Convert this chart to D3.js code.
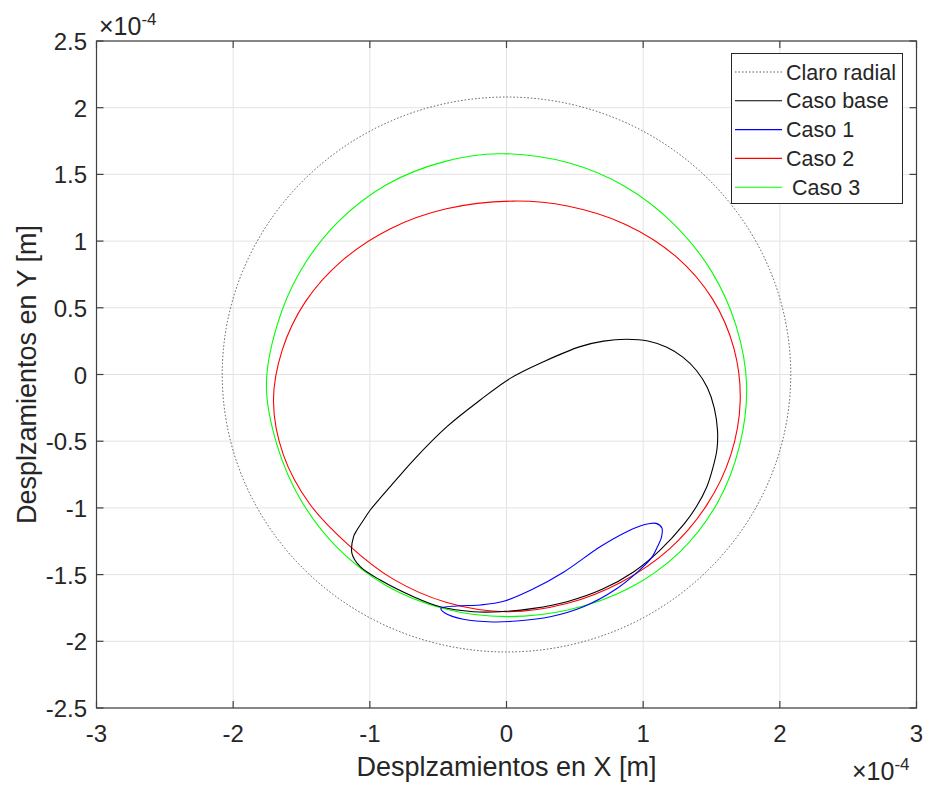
<!DOCTYPE html>
<html>
<head>
<meta charset="utf-8">
<script src="https://cdn.jsdelivr.net/npm/d3@7"></script>
<style>
  html, body { margin: 0; padding: 0; background: #fff; }
  svg text { font-family: "Liberation Sans", Arial, sans-serif; fill: #262626; }
</style>
</head>
<body>
<svg id="chart" width="925" height="785"></svg>
<script>
// Orbit displacements, in units of 1e-4 m: [x, y]
const radialClearance = 2.08;

const casoBase = [
  [-1.131, -1.341], [-1.119, -1.216], [-1.094, -1.166], [-1.046, -1.091], [-0.997, -1.016],
  [-0.936, -0.941], [-0.851, -0.841], [-0.680, -0.641], [-0.436, -0.391], [-0.192, -0.191],
  [0.027, -0.029], [0.271, 0.096], [0.539, 0.209], [0.710, 0.250], [0.880, 0.264],
  [1.035, 0.251], [1.173, 0.204], [1.290, 0.130], [1.390, 0.030], [1.470, -0.100],
  [1.520, -0.250], [1.544, -0.420], [1.540, -0.560], [1.510, -0.700], [1.466, -0.841],
  [1.390, -0.990], [1.300, -1.120], [1.120, -1.320], [0.929, -1.480], [0.700, -1.610],
  [0.442, -1.703], [0.198, -1.753], [-0.046, -1.778], [-0.241, -1.778], [-0.485, -1.741],
  [-0.680, -1.666], [-0.924, -1.541], [-1.070, -1.441]
];

const caso1 = [
  [-0.480, -1.753], [-0.363, -1.735], [-0.192, -1.728], [-0.020, -1.700], [0.190, -1.610],
  [0.420, -1.480], [0.685, -1.291], [0.880, -1.178], [0.978, -1.136], [1.040, -1.119],
  [1.095, -1.116], [1.137, -1.150], [1.135, -1.215], [1.105, -1.290], [1.060, -1.375],
  [0.970, -1.470], [0.800, -1.610], [0.563, -1.741], [0.320, -1.816], [0.076, -1.848],
  [-0.100, -1.855], [-0.315, -1.835], [-0.448, -1.790]
];

const caso2 = [
  [0.050, 1.300], [0.446, 1.263], [0.871, 1.125], [1.237, 0.887], [1.508, 0.565],
  [1.665, 0.192], [1.710, -0.200], [1.640, -0.606], [1.464, -0.981], [1.195, -1.305],
  [0.845, -1.553], [0.440, -1.717], [0.000, -1.778], [-0.437, -1.709], [-0.832, -1.532],
  [-1.161, -1.273], [-1.441, -0.969], [-1.632, -0.604], [-1.705, -0.200], [-1.640, 0.186],
  [-1.471, 0.546], [-1.201, 0.855], [-0.849, 1.093], [-0.440, 1.242]
];

const caso3 = [
  [-0.050, 1.655], [0.452, 1.587], [0.870, 1.408], [1.224, 1.128], [1.499, 0.775],
  [1.680, 0.365], [1.757, -0.080], [1.706, -0.531], [1.544, -0.961], [1.267, -1.331],
  [0.892, -1.605], [0.457, -1.764], [0.000, -1.815], [-0.455, -1.756], [-0.879, -1.583],
  [-1.236, -1.300], [-1.506, -0.939], [-1.680, -0.525], [-1.757, -0.080], [-1.680, 0.365],
  [-1.506, 0.779], [-1.236, 1.140], [-0.879, 1.423], [-0.455, 1.596]
];

const xTicks = [-3, -2, -1, 0, 1, 2, 3];
const yTicks = [-2.5, -2, -1.5, -1, -0.5, 0, 0.5, 1, 1.5, 2, 2.5];

const legendItems = [
  { label: "Claro radial", color: "#555", dash: "1.5,2" },
  { label: "Caso base", color: "#000000" },
  { label: "Caso 1", color: "#0000ff" },
  { label: "Caso 2", color: "#ff0000" },
  { label: " Caso 3", color: "#00ff00" }
];

const svg = d3.select("#chart");
const plot = { left: 96.5, right: 916.5, top: 41, bottom: 708 };

const x = d3.scaleLinear().domain([-3, 3]).range([plot.left, plot.right]);
const y = d3.scaleLinear().domain([-2.5, 2.5]).range([plot.bottom, plot.top]);

// Grid
const grid = svg.append("g").attr("stroke", "#e3e3e3").attr("stroke-width", 1);
xTicks.forEach(t => grid.append("line")
  .attr("x1", x(t)).attr("x2", x(t)).attr("y1", plot.top).attr("y2", plot.bottom));
yTicks.forEach(t => grid.append("line")
  .attr("x1", plot.left).attr("x2", plot.right).attr("y1", y(t)).attr("y2", y(t)));

// Radial clearance circle
svg.append("ellipse")
  .attr("cx", x(0)).attr("cy", y(0))
  .attr("rx", x(radialClearance) - x(0))
  .attr("ry", y(0) - y(radialClearance))
  .attr("fill", "none")
  .attr("stroke", "#555")
  .attr("stroke-width", 1)
  .attr("stroke-dasharray", "1.5,2");

const line = d3.line()
  .x(d => x(d[0])).y(d => y(d[1]))
  .curve(d3.curveCatmullRomClosed.alpha(0.5));

const series = [
  { data: caso3, color: "#00ff00" },
  { data: caso2, color: "#ff0000" },
  { data: casoBase, color: "#000000" },
  { data: caso1, color: "#0000ff" }
];
series.forEach(s => svg.append("path")
  .attr("d", line(s.data))
  .attr("fill", "none")
  .attr("stroke", s.color)
  .attr("stroke-width", 1.1));

// Axes box with inward ticks on every side
const axisColor = "#404040";
const tickLen = 7;
const box = svg.append("g").attr("stroke", axisColor).attr("stroke-width", 1.2);
box.append("rect")
  .attr("x", plot.left).attr("y", plot.top)
  .attr("width", plot.right - plot.left).attr("height", plot.bottom - plot.top)
  .attr("fill", "none");
xTicks.forEach(t => {
  box.append("line").attr("x1", x(t)).attr("x2", x(t)).attr("y1", plot.bottom).attr("y2", plot.bottom - tickLen);
  box.append("line").attr("x1", x(t)).attr("x2", x(t)).attr("y1", plot.top).attr("y2", plot.top + tickLen);
});
yTicks.forEach(t => {
  box.append("line").attr("x1", plot.left).attr("x2", plot.left + tickLen).attr("y1", y(t)).attr("y2", y(t));
  box.append("line").attr("x1", plot.right).attr("x2", plot.right - tickLen).attr("y1", y(t)).attr("y2", y(t));
});

// Tick labels
const tickFont = 24;
xTicks.forEach(t => svg.append("text")
  .attr("x", x(t)).attr("y", 742)
  .attr("text-anchor", "middle")
  .attr("font-size", tickFont)
  .text(String(t)));
yTicks.forEach(t => svg.append("text")
  .attr("x", 87).attr("y", y(t) + 9)
  .attr("text-anchor", "end")
  .attr("font-size", tickFont)
  .text(String(t)));

// Exponent markers
function exponent(xPos, yPos) {
  const t = svg.append("text").attr("x", xPos).attr("y", yPos).attr("font-size", 25);
  t.append("tspan").text("\u00d710");
  t.append("tspan").attr("dy", -10).attr("font-size", 17).text("-4");
}
exponent(99, 35);
exponent(852, 780);

// Axis titles
svg.append("text")
  .attr("x", x(0)).attr("y", 776)
  .attr("text-anchor", "middle")
  .attr("font-size", 27)
  .text("Desplzamientos en X [m]");
svg.append("text")
  .attr("transform", `translate(36, ${y(0)}) rotate(-90)`)
  .attr("text-anchor", "middle")
  .attr("font-size", 27)
  .text("Desplzamientos en Y [m]");

// Legend
const lg = svg.append("g");
lg.append("rect")
  .attr("x", 731.5).attr("y", 53.5)
  .attr("width", 171).attr("height", 150)
  .attr("fill", "#fff").attr("stroke", "#262626").attr("stroke-width", 1);
legendItems.forEach((d, i) => {
  const cy = 72 + i * 28.8;
  lg.append("line")
    .attr("x1", 735).attr("x2", 782).attr("y1", cy).attr("y2", cy)
    .attr("stroke", d.color).attr("stroke-width", 1.1)
    .attr("stroke-dasharray", d.dash || null);
  lg.append("text")
    .attr("x", 786).attr("y", cy + 7.5)
    .attr("font-size", 21.5)
    .style("white-space", "pre")
    .text(d.label);
});
</script>
</body>
</html>
